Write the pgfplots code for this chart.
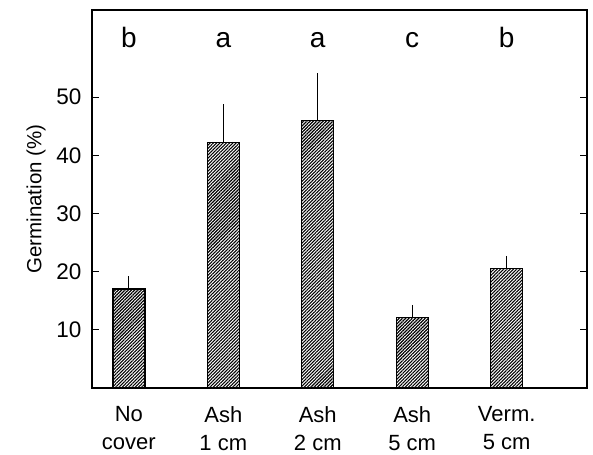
\documentclass[border=0pt]{standalone}
\usepackage{pgfplots}
\pgfplotsset{compat=1.18}
\usepackage{fontspec}
\setmainfont{Liberation Sans}
\usetikzlibrary{patterns.meta}
\begin{document}
\begin{tikzpicture}
\begin{axis}[
  name=ax,
  scale only axis,
  width=495pt, height=378pt,
  xmin=-0.39, xmax=4.85,
  ymin=0, ymax=65,
  axis line style={line width=1.2pt},
  xtick={0,1,2,3,4},
  xticklabels={{No\\cover},{Ash\\1 cm},{Ash\\2 cm},{Ash\\5 cm},{Verm.\\5 cm}},
  xticklabel style={align=center, yshift=-15pt, font=\fontsize{22}{28}\selectfont},
  major x tick style={draw=none},
  ytick={10,20,30,40,50},
  tick align=inside,
  ytick pos=both,
  major tick length=7pt,
  tick style={line width=1.1pt, black},
  yticklabel style={xshift=-7pt, font=\fontsize{22.5}{28}\selectfont},
  /pgf/number format/assume math mode=true,
  ylabel={Germination (\%)},
  ylabel style={font=\fontsize{20.5}{26}\selectfont, yshift=4pt},
  clip=false,
]
\addplot[ybar, bar width=32pt, draw=black, line width=1.4pt,
  pattern={Lines[angle=45,distance=2.3pt,line width=1.1pt]}, pattern color=black,
  error bars/.cd, y dir=plus, y explicit, error mark=none,
  error bar style={line width=1.3pt, black}]
coordinates {
  (0,17.0) +- (0,2.2)
  (1,42.2) +- (0,6.6)
  (2,46.0) +- (0,8.1)
  (3,12.1) +- (0,2.2)
  (4,20.55) +- (0,2.15)
};
\node[anchor=base, font=\fontsize{28}{32}\selectfont] at (axis cs:0,58.6) {b};
\node[anchor=base, font=\fontsize{28}{32}\selectfont] at (axis cs:1,58.6) {a};
\node[anchor=base, font=\fontsize{28}{32}\selectfont] at (axis cs:2,58.6) {a};
\node[anchor=base, font=\fontsize{28}{32}\selectfont] at (axis cs:3,58.6) {c};
\node[anchor=base, font=\fontsize{28}{32}\selectfont] at (axis cs:4,58.6) {b};
\end{axis}
\path ([xshift=-92pt,yshift=-66pt]ax.south west) rectangle ([xshift=6pt,yshift=10pt]ax.north east);
\end{tikzpicture}
\end{document}
